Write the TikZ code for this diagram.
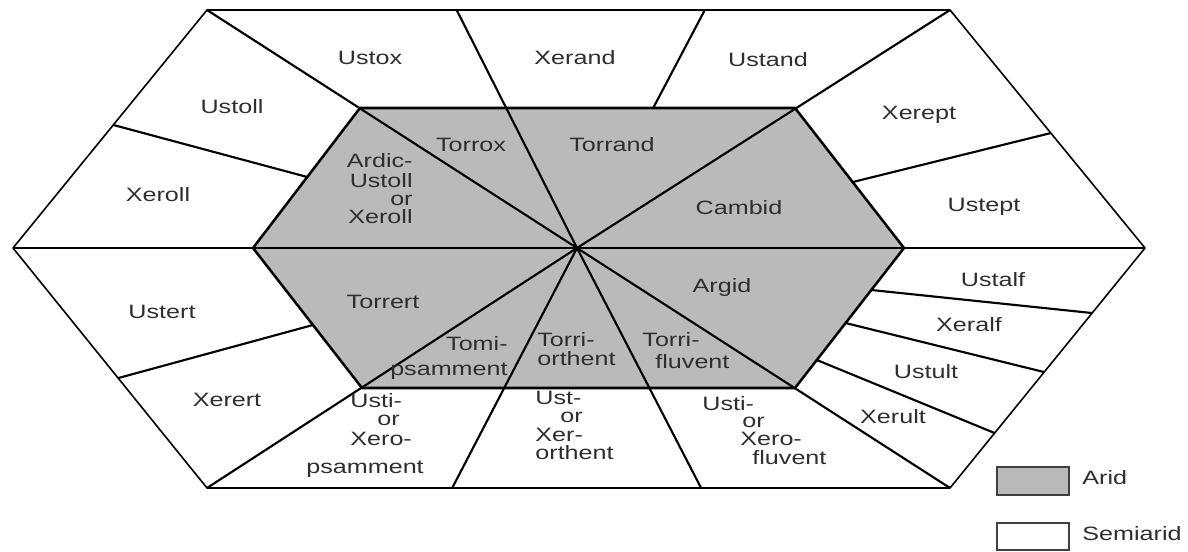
\documentclass[tikz,border=0pt]{standalone}
\usepackage{fontspec}
\setmainfont[FakeStretch=1.3]{Liberation Sans}
\usetikzlibrary{calc}
\definecolor{aridgrey}{HTML}{BABABA}
\definecolor{labelgrey}{HTML}{2E2E2E}
\tikzset{lbl/.style={font=\fontsize{14.5}{13}\selectfont,text=labelgrey,inner sep=0.1pt},
  rimline/.style={line width=1.2pt,line join=round},
  rayline/.style={line width=1.6pt},
  coreline/.style={line width=1.9pt,line join=round},
  keybox/.style={line width=0.9pt,draw=black!75}}

\begin{document}
\begin{tikzpicture}[x=0.75pt,y=0.75pt,yscale=-1,xscale=1]
\useasboundingbox (0,0) rectangle (1188,552);

%Corners of the two hexagons and the centre
\coordinate (o1) at (207,10);
\coordinate (o2) at (950,10);
\coordinate (o3) at (1145,248);
\coordinate (o4) at (950,488);
\coordinate (o5) at (207,488);
\coordinate (o6) at (13,248);
\coordinate (i1) at (360,108);
\coordinate (i2) at (795,108);
\coordinate (i3) at (904,248);
\coordinate (i4) at (795,388);
\coordinate (i5) at (362,388);
\coordinate (i6) at (253,248);
\coordinate (c) at (577,248);

%Shape: arid core
\fill[aridgrey] (i1) -- (i2) -- (i3) -- (i4) -- (i5) -- (i6) -- cycle;

%Straight Lines: through the centre
\draw[rayline] (o6) -- (o3);
\draw[rayline] (c) -- (o1);
\draw[rayline] (c) -- ($(o1)!0.336!(o2)$);
\draw[rayline] (c) -- (o2);
\draw[rayline] (c) -- (o4);
\draw[rayline] (c) -- ($(o5)!0.665!(o4)$);
\draw[rayline] (c) -- ($(o5)!0.330!(o4)$);
\draw[rayline] (c) -- (o5);

%Straight Lines: ring dividers
\draw[rayline] ($(i1)!0.674!(i2)$) -- ($(o1)!0.670!(o2)$);
\draw[rayline] ($(i6)!0.507!(i1)$) -- ($(o6)!0.517!(o1)$);
\draw[rayline] ($(i3)!0.471!(i2)$) -- ($(o3)!0.483!(o2)$);
\draw[rayline] ($(i6)!0.550!(i5)$) -- ($(o6)!0.542!(o5)$);
\draw[rayline] ($(i3)!0.300!(i4)$) -- ($(o3)!0.271!(o4)$);
\draw[rayline] ($(i3)!0.536!(i4)$) -- ($(o3)!0.517!(o4)$);
\draw[rayline] ($(i3)!0.800!(i4)$) -- ($(o3)!0.771!(o4)$);

%Shape: outer hexagon
\draw[rimline] (o1) -- (o2) -- (o3) -- (o4) -- (o5) -- (o6) -- cycle;
%Shape: inner hexagon
\draw[coreline] (i1) -- (i2) -- (i3) -- (i4) -- (i5) -- (i6) -- cycle;

% Text Node: outer ring
\draw (370,58) node [lbl] (ustox) {Ustox};
\draw (575,58) node [lbl] (xerand) {Xerand};
\draw (768,60) node [lbl] (ustand) {Ustand};
\draw (232,107) node [lbl] (ustoll) {Ustoll};
\draw (158,195) node [lbl] (xeroll) {Xeroll};
\draw (919,115) node [lbl] (xerept) {Xerept};
\draw (984,207) node [lbl] (ustept) {Ustept};
\draw (162,312) node [lbl] (ustert) {Ustert};
\draw (227,400) node [lbl] (xerert) {Xerert};
\draw (993,280) node [lbl] (ustalf) {Ustalf};
\draw (969,325) node [lbl] (xeralf) {Xeralf};
\draw (926,372) node [lbl] (ustult) {Ustult};
\draw (893,417) node [lbl] (xerult) {Xerult};
% Text Node: Usti- or Xero-psamment
\draw (350,404) node [lbl,anchor=mid west] (uxps1) {Usti-};
\draw (377,422) node [lbl,anchor=mid west] (uxps2) {or};
\draw (350,442) node [lbl,anchor=mid west] (uxps3) {Xero-};
\draw (306,470) node [lbl,anchor=mid west] (uxps4) {psamment};
% Text Node: Ust- or Xer-orthent
\draw (535,401) node [lbl,anchor=mid west] (uxor1) {Ust-};
\draw (560,419) node [lbl,anchor=mid west] (uxor2) {or};
\draw (535,438) node [lbl,anchor=mid west] (uxor3) {Xer-};
\draw (535,456) node [lbl,anchor=mid west] (uxor4) {orthent};
% Text Node: Usti- or Xero-fluvent
\draw (702,407) node [lbl,anchor=mid west] (uxfl1) {Usti-};
\draw (742,424) node [lbl,anchor=mid west] (uxfl2) {or};
\draw (740,442) node [lbl,anchor=mid west] (uxfl3) {Xero-};
\draw (752,461) node [lbl,anchor=mid west] (uxfl4) {fluvent};

% Text Node: arid core
\draw (471,145) node [lbl] (torrox) {Torrox};
\draw (612,145) node [lbl] (torrand) {Torrand};
\draw (739,208) node [lbl] (cambid) {Cambid};
\draw (722,288) node [lbl] (argid) {Argid};
\draw (383,302) node [lbl] (torrert) {Torrert};
\draw (413,164) node [lbl,anchor=mid east] (ardic1) {Ardic-};
\draw (413,184) node [lbl,anchor=mid east] (ardic2) {Ustoll};
\draw (413,202) node [lbl,anchor=mid east] (ardic3) {or};
\draw (413,220) node [lbl,anchor=mid east] (ardic4) {Xeroll};
\draw (508,347) node [lbl,anchor=mid east] (tomi1) {Tomi-};
\draw (508,372) node [lbl,anchor=mid east] (tomi2) {psamment};
\draw (537,343) node [lbl,anchor=mid west] (torrior1) {Torri-};
\draw (537,362) node [lbl,anchor=mid west] (torrior2) {orthent};
\draw (642,343) node [lbl,anchor=mid west] (torrifl1) {Torri-};
\draw (655,365) node [lbl,anchor=mid west] (torrifl2) {fluvent};

%Legend
\draw[keybox,fill=aridgrey] (997,467) rectangle (1069,495);
\draw[keybox,fill=white] (997,523) rectangle (1069,550);
\draw (1082,481) node [lbl,anchor=mid west] (aridkey) {Arid};
\draw (1082,537) node [lbl,anchor=mid west] (semikey) {Semiarid};

\end{tikzpicture}
\end{document}
